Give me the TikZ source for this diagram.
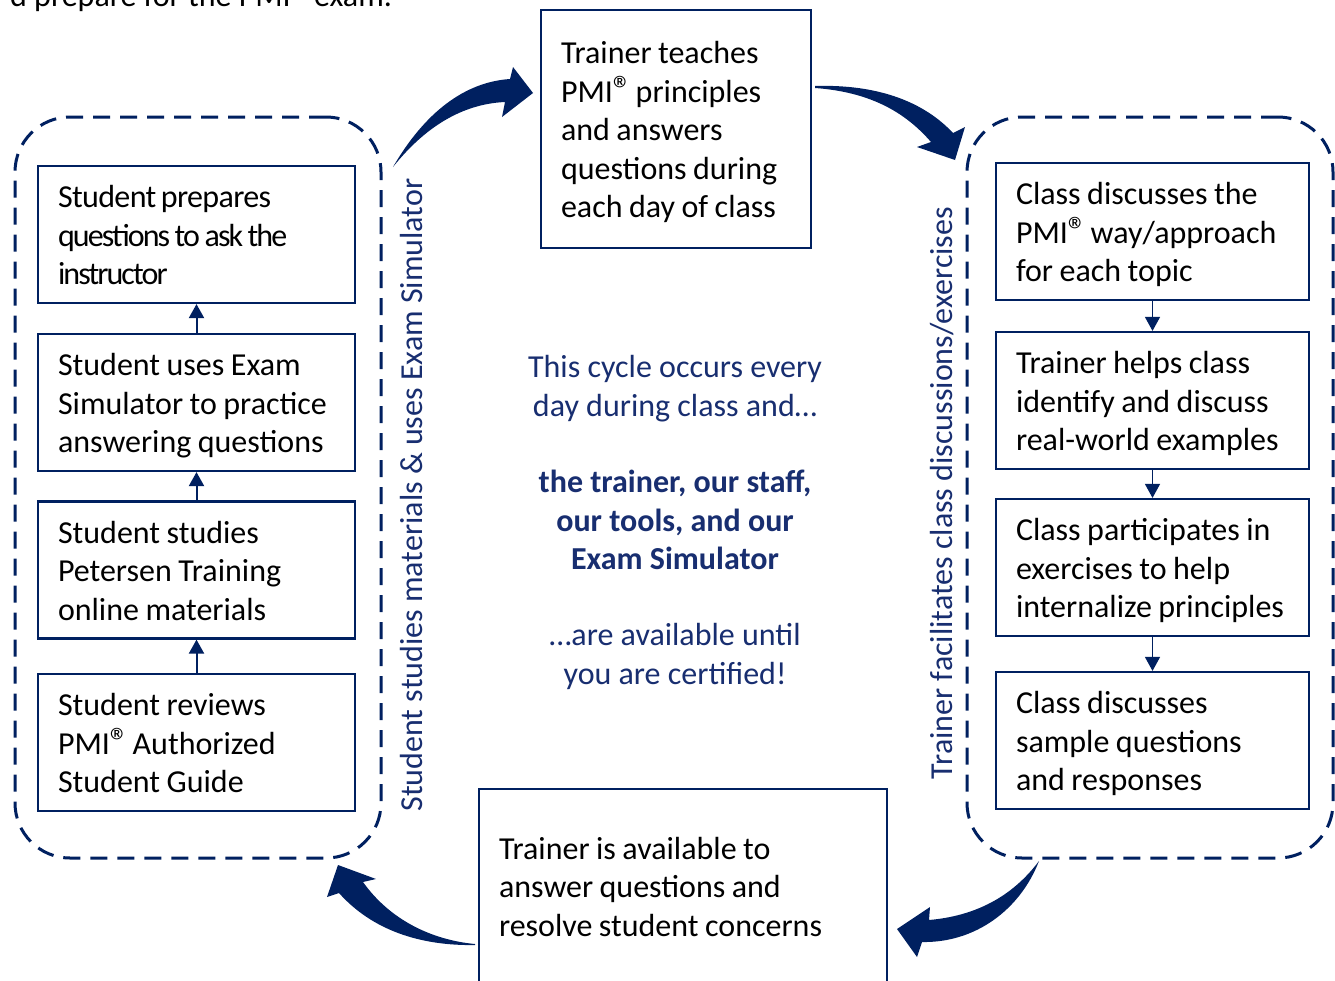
\documentclass[tikz,border=0pt]{standalone}
\usepackage{fontspec}
\setmainfont{Carlito}
\newfontfamily\tightfont[LetterSpace=-6]{Carlito}
\newfontfamily\semitightfont[LetterSpace=-2]{Carlito}
\usetikzlibrary{arrows.meta}
\definecolor{navy}{RGB}{0,32,96}
\definecolor{tnavy}{RGB}{24,46,112}
\newcommand{\regm}{{\fontsize{38}{38}\selectfont ®}\kern-3pt}
\newcommand{\tlines}[2][6.5pt]{{\spaceskip=#1 plus 1pt minus 1pt\relax
  \begin{tabular}{@{}l@{}}\rule{0pt}{35pt}#2\end{tabular}}}
\begin{document}
\begin{tikzpicture}[x=1pt,y=-1pt,
  txt/.style={font=\fontsize{32}{38.5}\selectfont},
  box/.style={txt, draw=navy, line width=2.2pt, fill=white, inner xsep=20pt, inner ysep=0pt, align=left, text=black},
  lbox/.style={box, minimum width=317pt, text width=277pt, minimum height=137pt},
  rbox/.style={box, minimum width=313pt, text width=273pt, minimum height=137pt},
  group/.style={draw=navy, line width=3pt, dash pattern=on 17pt off 10pt, rounded corners=55pt, minimum width=366pt, minimum height=741pt, inner sep=0pt},
  uparr/.style={draw=navy, line width=2pt, -{Triangle[width=15pt,length=14pt]}},
  dnarr/.style={draw=navy, line width=1.4pt, -{Triangle[width=15pt,length=14pt]}},
  vlabel/.style={txt, text=tnavy, rotate=90},
  block/.style={fill=navy, draw=none}]
\clip (0,0) rectangle (1335,980);
\fill[white] (0,0) rectangle (1335,980);

% cut-off text at the top
\node[txt, anchor=base west, text=black, inner sep=0pt] (toptext) at (10,6) {d prepare for the PMI\regm{} exam.};

% dashed groups
\node[group] (gl) at (198,487.5) {};
\node[group] (gr) at (1150,487.5) {};

% left boxes
\node[lbox] (l1) at (196.5,234.5) {\tlines[4.5pt]{{\semitightfont Student prepares}\\{\tightfont questions to ask the}\\{\tightfont instructor}}};
\node[lbox] (l2) at (196.5,402.5) {\tlines{Student uses Exam\\Simulator to practice\\answering questions}};
\node[lbox] (l3) at (196.5,570) {\tlines{Student studies\\Petersen Training\\online materials}};
\node[lbox] (l4) at (196.5,742.5) {\tlines{Student reviews\\PMI\regm{} Authorized\\Student Guide}};
\draw[uparr] (l4.north) -- (l3.south);
\draw[uparr] (l3.north) -- (l2.south);
\draw[uparr] (l2.north) -- (l1.south);

% right boxes
\node[rbox] (r1) at (1152.5,231.5) {\tlines{Class discusses the\\PMI\regm{} way/approach\\for each topic}};
\node[rbox] (r2) at (1152.5,400.5) {\tlines{Trainer helps class\\identify and discuss\\real-world examples}};
\node[rbox] (r3) at (1152.5,567.5) {\tlines{Class participates in\\exercises to help\\internalize principles}};
\node[rbox] (r4) at (1152.5,740.5) {\tlines{Class discusses\\sample questions\\and responses}};
\draw[dnarr] (r1.south) -- (r2.north);
\draw[dnarr] (r2.south) -- (r3.north);
\draw[dnarr] (r3.south) -- (r4.north);

% vertical labels
\node[vlabel] (vl) at (412,495) {Student studies materials \& uses Exam Simulator};
\node[vlabel] (vr) at (942,493) {Trainer facilitates class discussions/exercises};

% top and bottom boxes
\node[box, minimum width=270pt, text width=230pt, minimum height=238pt] (top) at (676,129) {\tlines{Trainer teaches\\PMI\regm{} principles\\and answers\\questions during\\each day of class}};
\node[box, minimum width=408pt, text width=368pt, minimum height=194pt] (bot) at (683,886) {\tlines{Trainer is available to\\answer questions and\\resolve student concerns}};

% centre text
\node[txt, align=center, text=tnavy, font=\fontsize{32}{38.3}\selectfont] (centre) at (675,522.5)
  {This cycle occurs every\\day during class and…\\[38.3pt]
   \textbf{the trainer, our staff,}\\\textbf{our tools, and our}\\\textbf{Exam Simulator}\\[38.3pt]
   …are available until\\you are certified!};

% curved block arrows
\path[block] (393,167) .. controls (425,112) and (465,82) .. (510,79)
  -- (513,67) -- (533,93) -- (502,117) -- (505,102)
  .. controls (462,104) and (425,127) .. cycle;
\path[block] (815,86) .. controls (880,84) and (925,103) .. (953,133)
  -- (965,127) -- (955,160) -- (917,147) -- (931,142)
  .. controls (905,112) and (870,92) .. (815,88) -- cycle;
\path[block] (1039,861) .. controls (1012,897) and (975,916) .. (929,920)
  -- (930,907) -- (897,929) -- (917,957) -- (922,942)
  .. controls (975,943) and (1020,910) .. cycle;
\path[block] (475,944) .. controls (432,940) and (390,920) .. (363,882)
  -- (376,879) -- (338,865) -- (327,897) -- (339,893)
  .. controls (372,930) and (420,946) .. (475,945) -- cycle;
\end{tikzpicture}
\end{document}
